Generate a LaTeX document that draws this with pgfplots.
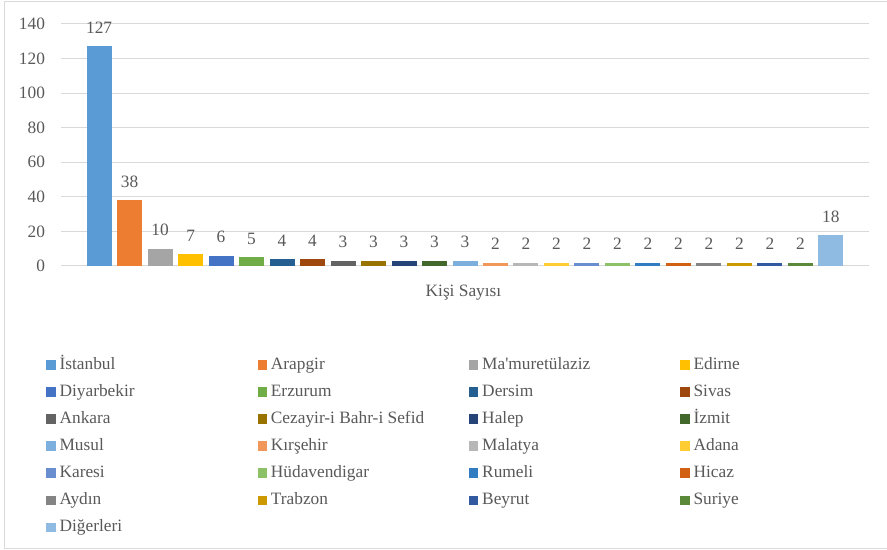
\documentclass[border=0pt]{standalone}
\usepackage{pgfplots}
\pgfplotsset{compat=1.18}
\usepackage{fontspec}
\setmainfont{Liberation Serif}
\definecolor{txt}{HTML}{595959}
\definecolor{grd}{HTML}{D9D9D9}
\definecolor{c1}{HTML}{5B9BD5}
\definecolor{c2}{HTML}{ED7D31}
\definecolor{c3}{HTML}{A5A5A5}
\definecolor{c4}{HTML}{FFC000}
\definecolor{c5}{HTML}{4472C4}
\definecolor{c6}{HTML}{70AD47}
\definecolor{c7}{HTML}{255E91}
\definecolor{c8}{HTML}{9E480E}
\definecolor{c9}{HTML}{636363}
\definecolor{c10}{HTML}{997300}
\definecolor{c11}{HTML}{264478}
\definecolor{c12}{HTML}{43682B}
\definecolor{c13}{HTML}{7CAFDD}
\definecolor{c14}{HTML}{F1975A}
\definecolor{c15}{HTML}{B7B7B7}
\definecolor{c16}{HTML}{FFCD33}
\definecolor{c17}{HTML}{698ED0}
\definecolor{c18}{HTML}{8CC168}
\definecolor{c19}{HTML}{327DC2}
\definecolor{c20}{HTML}{D26012}
\definecolor{c21}{HTML}{848484}
\definecolor{c22}{HTML}{CC9A00}
\definecolor{c23}{HTML}{335AA1}
\definecolor{c24}{HTML}{5A8A39}
\definecolor{c25}{HTML}{8FBBE3}
\newcommand\legent[1]{\addlegendentry{\makebox[148.5pt][l]{#1}}}
\begin{document}
\begin{tikzpicture}[font=\fontsize{13pt}{15pt}\selectfont]
\useasboundingbox (0,0) rectangle (665.25pt,411.75pt);
\draw[grd, line width=0.75pt] (3pt,0.6pt) rectangle (670pt,410.6pt);
\begin{axis}[
  at={(45.75pt,212.25pt)}, anchor=south west,
  scale only axis, width=606pt, height=181.5pt,
  xmin=-1.25, xmax=25.25, ymin=0, ymax=140,
  ytick={0,20,...,140}, xtick=\empty,
  ymajorgrids, grid style={grd, line width=0.75pt},
  axis line style={draw=none}, major tick length=0pt,
  yticklabel style={text=txt, xshift=-8.5pt},
  /pgf/number format/assume math mode=true,
  ybar, bar width=18.75pt,
  nodes near coords,
  every node near coord/.append style={text=txt, anchor=center, yshift=13.9pt},
  legend columns=4, legend cell align=left,
  legend image code/.code={\fill[#1] (0pt,-3.5pt) rectangle (7pt,3.5pt);},
  legend style={at={(-0.0186,-0.373)}, anchor=north west, draw=none, fill=none,
    inner sep=0pt, text=txt, row sep=7.8pt,
    nodes={inner sep=0pt, text height=9.5pt, text depth=3pt},
    /tikz/column sep=0pt,
    /tikz/every odd column/.append style={column sep=3pt}},
]
\addplot[fill=c1, draw=none, bar shift=0pt] coordinates {(0,127)}; \legent{İstanbul}
\addplot[fill=c2, draw=none, bar shift=0pt] coordinates {(1,38)}; \legent{Arapgir}
\addplot[fill=c3, draw=none, bar shift=0pt] coordinates {(2,10)}; \legent{Ma\textquotesingle muretülaziz}
\addplot[fill=c4, draw=none, bar shift=0pt] coordinates {(3,7)}; \legent{Edirne}
\addplot[fill=c5, draw=none, bar shift=0pt] coordinates {(4,6)}; \legent{Diyarbekir}
\addplot[fill=c6, draw=none, bar shift=0pt] coordinates {(5,5)}; \legent{Erzurum}
\addplot[fill=c7, draw=none, bar shift=0pt] coordinates {(6,4)}; \legent{Dersim}
\addplot[fill=c8, draw=none, bar shift=0pt] coordinates {(7,4)}; \legent{Sivas}
\addplot[fill=c9, draw=none, bar shift=0pt] coordinates {(8,3)}; \legent{Ankara}
\addplot[fill=c10, draw=none, bar shift=0pt] coordinates {(9,3)}; \legent{Cezayir-i Bahr-i Sefid}
\addplot[fill=c11, draw=none, bar shift=0pt] coordinates {(10,3)}; \legent{Halep}
\addplot[fill=c12, draw=none, bar shift=0pt] coordinates {(11,3)}; \legent{İzmit}
\addplot[fill=c13, draw=none, bar shift=0pt] coordinates {(12,3)}; \legent{Musul}
\addplot[fill=c14, draw=none, bar shift=0pt] coordinates {(13,2)}; \legent{Kırşehir}
\addplot[fill=c15, draw=none, bar shift=0pt] coordinates {(14,2)}; \legent{Malatya}
\addplot[fill=c16, draw=none, bar shift=0pt] coordinates {(15,2)}; \legent{Adana}
\addplot[fill=c17, draw=none, bar shift=0pt] coordinates {(16,2)}; \legent{Karesi}
\addplot[fill=c18, draw=none, bar shift=0pt] coordinates {(17,2)}; \legent{Hüdavendigar}
\addplot[fill=c19, draw=none, bar shift=0pt] coordinates {(18,2)}; \legent{Rumeli}
\addplot[fill=c20, draw=none, bar shift=0pt] coordinates {(19,2)}; \legent{Hicaz}
\addplot[fill=c21, draw=none, bar shift=0pt] coordinates {(20,2)}; \legent{Aydın}
\addplot[fill=c22, draw=none, bar shift=0pt] coordinates {(21,2)}; \legent{Trabzon}
\addplot[fill=c23, draw=none, bar shift=0pt] coordinates {(22,2)}; \legent{Beyrut}
\addplot[fill=c24, draw=none, bar shift=0pt] coordinates {(23,2)}; \legent{Suriye}
\addplot[fill=c25, draw=none, bar shift=0pt] coordinates {(24,18)}; \legent{Diğerleri}
\end{axis}
\node[text=txt] at (347.6pt,192pt) {Kişi Sayısı};
\end{tikzpicture}
\end{document}
